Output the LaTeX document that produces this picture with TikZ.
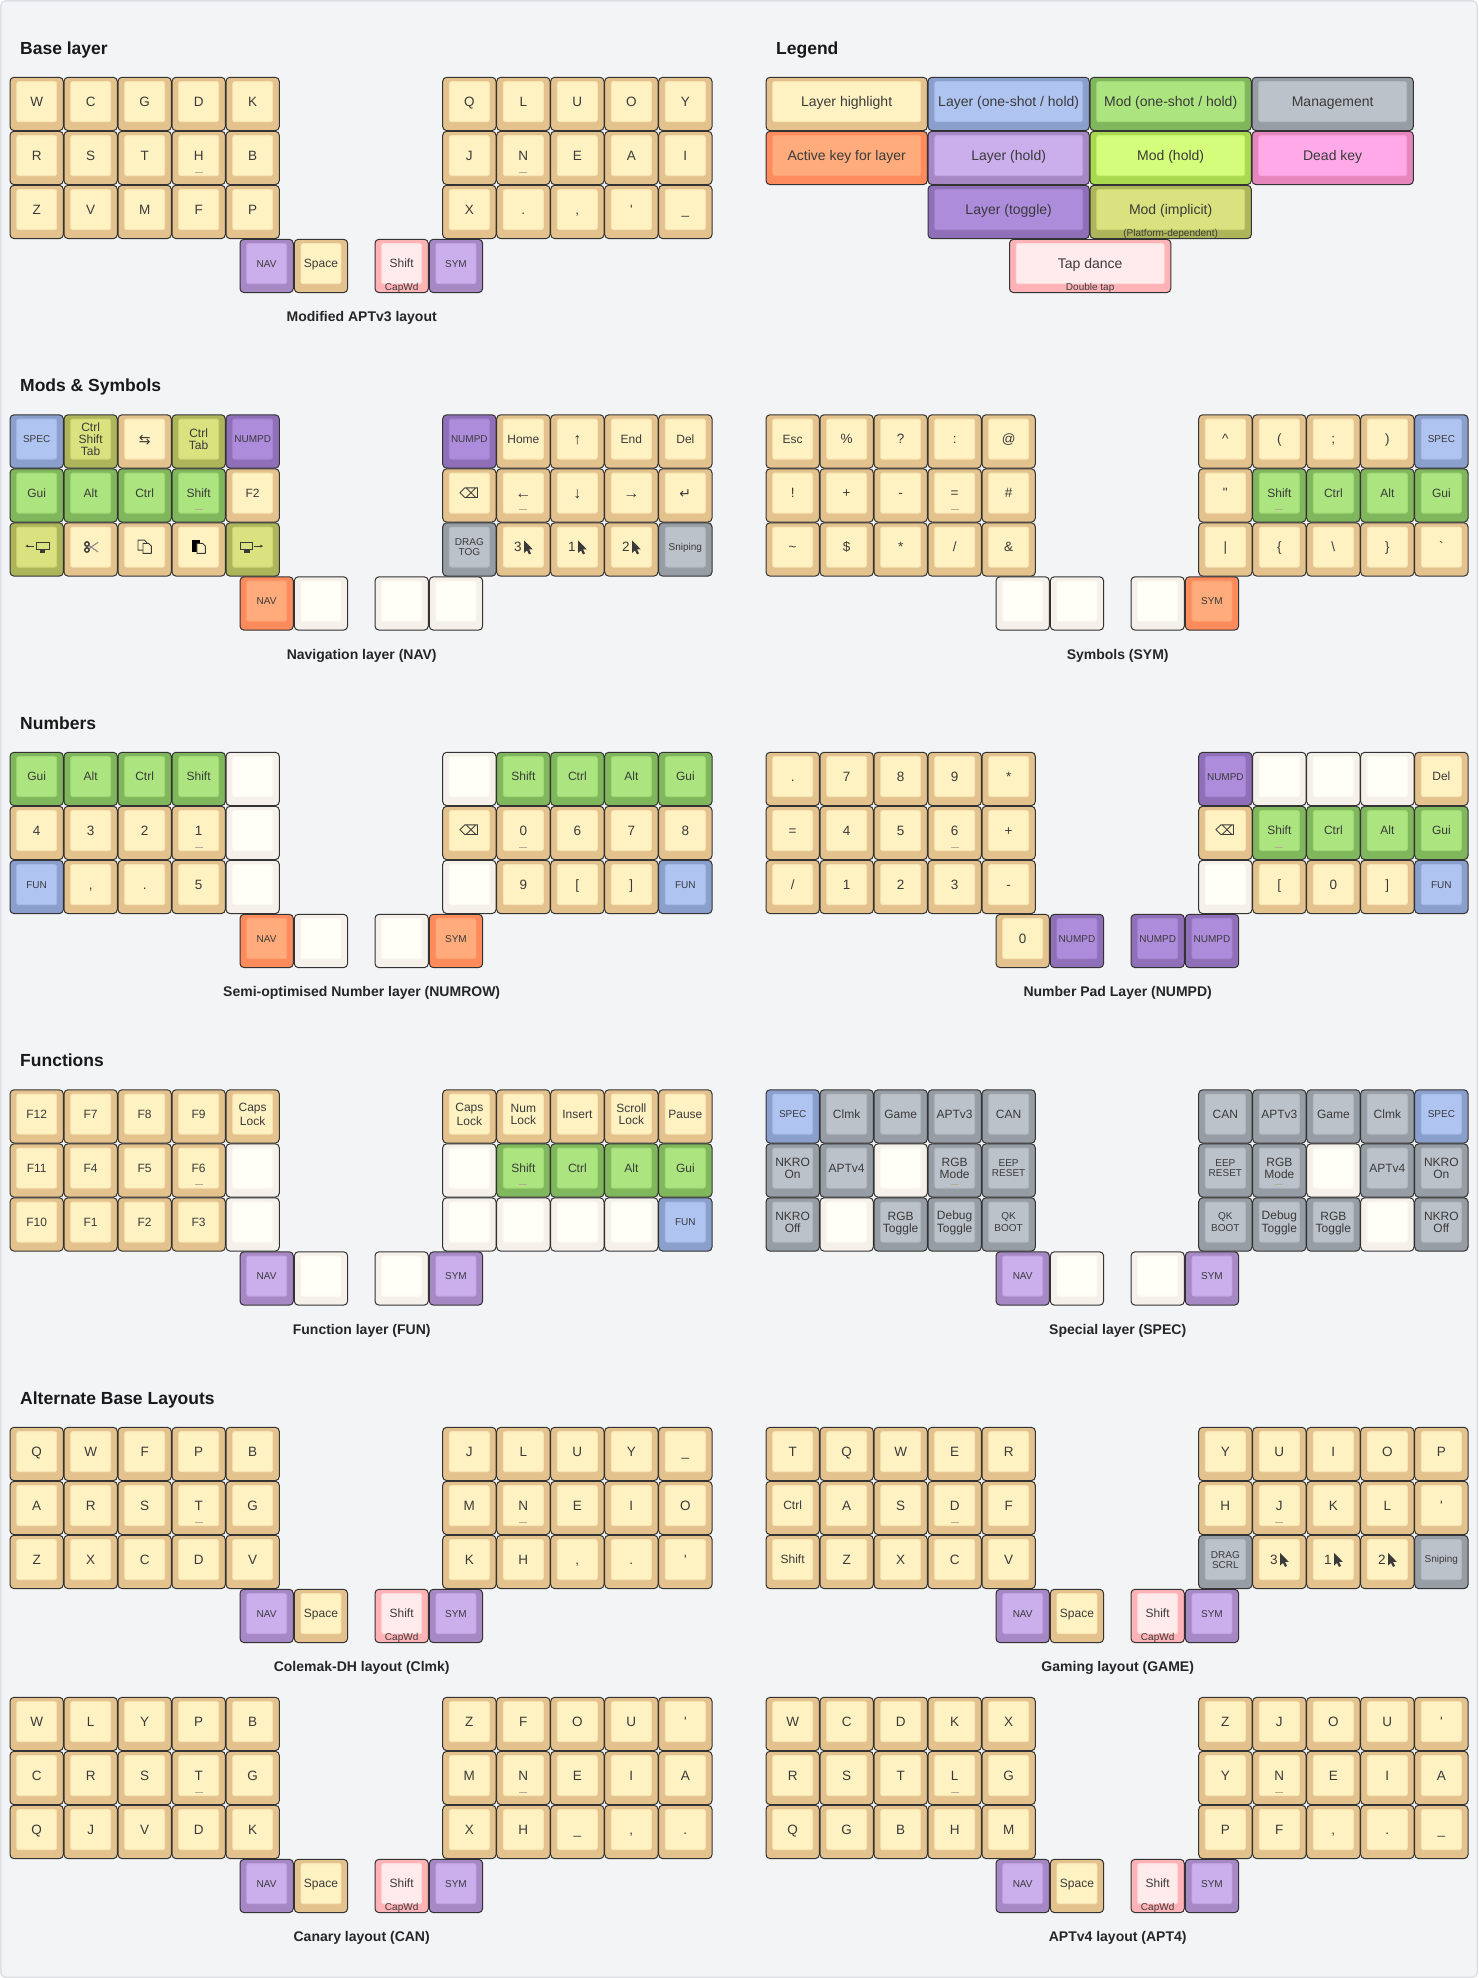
\documentclass[tikz,border=0pt]{standalone}
\usepackage{fontspec}
\newfontfamily\kf{Liberation Sans}
\newfontfamily\djv{DejaVu Sans}
\def\defkc#1#2#3{\definecolor{out#1}{HTML}{#2}\definecolor{inn#1}{HTML}{#3}}
\defkc{t}{E4C28E}{FFF2C2}
\defkc{o}{8A9FCB}{B0C4F2}
\defkc{m}{80B75C}{ACE57F}
\defkc{g}{979DA4}{BCC2CA}
\defkc{a}{FD8B5C}{FFAB7C}
\defkc{h}{A688C5}{CBAEEC}
\defkc{y}{A8D94E}{D4FD7C}
\defkc{k}{E686BC}{FFA9E8}
\defkc{l}{8F70B8}{AE8CDC}
\defkc{i}{ADB55A}{D9E27F}
\defkc{d}{FFB3B6}{FFEBEB}
\defkc{w}{F5F0EA}{FFFFF7}
\definecolor{pagebg}{HTML}{F3F4F6}
\definecolor{pageedge}{HTML}{DEE0E3}
\definecolor{ink}{HTML}{3A3A3A}
\definecolor{keyline}{HTML}{333333}
\definecolor{barc}{HTML}{B5AE94}
\tikzset{
  keyout/.style={draw=keyline,line width=1pt,rounded corners=4pt,minimum height=53.3pt,inner sep=0pt,outer sep=0pt},
  keyin/.style={line width=.8pt,rounded corners=2pt,minimum height=40pt,inner sep=0pt,outer sep=0pt,align=center,text=ink},
  heading/.style={anchor=base west,inner sep=0pt,text=black!90,font=\kf\bfseries\fontsize{17.5}{20}\selectfont},
  captxt/.style={anchor=base,inner sep=0pt,text=black!85,font=\kf\bfseries\fontsize{14}{16}\selectfont},
  subtxt/.style={inner sep=0pt,text=ink,font=\kf\fontsize{10}{10}\selectfont},
  homebar/.style={draw=barc,line width=.8pt},
  icon/.style={ink,line width=.9pt,line join=round},
}
\def\fW{\kf\fontsize{12}{12}\selectfont}
\def\fC{\kf\fontsize{13.5}{14}\selectfont}
\def\fS{\kf\fontsize{10}{10}\selectfont}
\def\fL{\kf\fontsize{14}{14}\selectfont}
\def\fA{\kf\fontsize{16}{16}\selectfont}
\def\mys{\rule[-0.14em]{0pt}{1em}}
\newcount\kI \newcount\kId
\def\kBarFlag{0}
\def\kSub{}
\def\Hm{\gdef\kBarFlag{1}}
\def\Sb#1{\gdef\kSub{#1}}
% x y width colour font text
\newcommand\keyat[6]{%
  \global\advance\kId by 1
  \node[keyout,minimum width=#3pt,fill=out#4] (o\the\kId) at (#1+#3/2,#2+26.65) {};
  \node[keyin,minimum width=#3pt-13.3pt,fill=inn#4,draw=inn#4!72!out#4,font=#5,alias=lastin] (n\the\kId) at (#1+#3/2,#2+24.3) {\mys#6\mys};
  \if\kBarFlag1
    \draw[homebar] (#1+#3/2-4,#2+40.7) -- ++(8,0);
    \gdef\kBarFlag{0}%
  \fi
  \ifx\kSub\empty\else
    \node[subtxt] (s\the\kId) at (#1+#3/2,#2+48.6) {\kSub};
    \gdef\kSub{}%
  \fi
}
\def\kSet#1#2{\gdef\kOX{#1}\gdef\kOY{#2}\global\kI=0 }
\newcommand\kNext[3]{%
  \ifnum\kI<30
    \pgfmathtruncatemacro\kR{\kI/10}%
    \pgfmathtruncatemacro\kC{mod(\kI,10)}%
    \ifnum\kC<5
      \pgfmathsetmacro\kDX{\kC*54}%
    \else
      \pgfmathsetmacro\kDX{432.7+(\kC-5)*54}%
    \fi
    \pgfmathsetmacro\kDY{\kR*54}%
  \else
    \edef\kDX{\ifcase\numexpr\kI-30\relax 230\or 284.3\or 365\or 419.3\fi}%
    \def\kDY{162}%
  \fi
  \keyat{\kOX+\kDX}{\kOY+\kDY}{53.3}{#1}{#2}{#3}%
  \global\advance\kI by 1
}
\newcommand\Kw[2]{\kNext{#1}{\fW}{#2}}
\newcommand\Kc[2]{\kNext{#1}{\fC}{#2}}
\newcommand\Ks[2]{\kNext{#1}{\fS}{#2}}
\newcommand\Ka[1]{\kNext{t}{\fA}{#1}}
\newcommand\Kb{\kNext{w}{\fW}{}}
\newcommand\Tn[5]{\Kc{t}{#1}\Kc{t}{#2}\Kc{t}{#3}\Kc{t}{#4}\Kc{t}{#5}}
\newcommand\TnL[5]{\Kc{t}{#1}\Kc{t}{#2}\Kc{t}{#3}\Hm\Kc{t}{#4}\Kc{t}{#5}}
\newcommand\TnR[5]{\Kc{t}{#1}\Hm\Kc{t}{#2}\Kc{t}{#3}\Kc{t}{#4}\Kc{t}{#5}}
\newcommand\ThumbStd{\Ks{h}{NAV}\Kw{t}{Space}\Sb{CapWd}\Kw{d}{Shift}\Ks{h}{SYM}}
\newcommand\ThumbPlain{\Ks{h}{NAV}\Kb\Kb\Ks{h}{SYM}}
\newcommand\ModsL{\Kw{m}{Gui}\Kw{m}{Alt}\Kw{m}{Ctrl}\Kw{m}{Shift}}
\newcommand\ModsR{\Kw{m}{Shift}\Kw{m}{Ctrl}\Kw{m}{Alt}\Kw{m}{Gui}}
\newcommand\ModsLH{\Kw{m}{Gui}\Kw{m}{Alt}\Kw{m}{Ctrl}\Hm\Kw{m}{Shift}}
\newcommand\Bksp{\kNext{t}{\djv\fontsize{14}{14}\selectfont}{⌫}}
\newcommand\Ptr[1]{% digit + cursor
  \Kc{t}{#1\hspace{11pt}}%
  \fill[ink,shift={(lastin.center)},shift={(0.7,-6.7)}] (0,0) -- (0,12.6) -- (2.9,10) -- (5,14) -- (7,13) -- (5,9) -- (8.8,9) -- cycle;
}
\newcommand\Head[3]{\global\advance\kId by 1 \node[heading] (h\the\kId) at (#1,#2) {#3};}
\newcommand\Capt[3]{\global\advance\kId by 1 \node[captxt] (c\the\kId) at (#1,#2) {#3};}
\newcommand\Lyr[3]{\kSet{#1}{#2}\Capt{#1+351.7}{#2+244.4}{#3}}
\newcommand\Doc[4]{(#1,#2) -- (#3-2.6,#2) -- (#3,#2+2.6) -- (#3,#4) -- (#1,#4) -- cycle}
\begin{document}
\begin{tikzpicture}[x=1pt,y=-1pt]
\useasboundingbox (0,0) rectangle (1478,1978);
\fill[white] (0,0) rectangle (1478,1978);
\draw[fill=pagebg,draw=pageedge,line width=1.5pt,rounded corners=5pt] (.75,.75) rectangle (1477.25,1977.25);
% section headings
\Head{20}{54.3}{Base layer}
\Head{776}{54.3}{Legend}
\Head{20}{391.8}{Mods \& Symbols}
\Head{20}{729.3}{Numbers}
\Head{20}{1066.8}{Functions}
\Head{20}{1404.3}{Alternate Base Layouts}
% Base
\Lyr{10}{77.3}{Modified APTv3 layout}
\Tn{W}{C}{G}{D}{K}\Tn{Q}{L}{U}{O}{Y}
\TnL{R}{S}{T}{H}{B}\TnR{J}{N}{E}{A}{I}
\Tn{Z}{V}{M}{F}{P}\Tn{X}{.}{,}{'}{\_}
\ThumbStd
% Legend
\keyat{766}{77.3}{161.3}{t}{\fL}{Layer highlight}
\keyat{928}{77.3}{161.3}{o}{\fL}{Layer (one-shot / hold)}
\keyat{1090}{77.3}{161.3}{m}{\fL}{Mod (one-shot / hold)}
\keyat{1252}{77.3}{161.3}{g}{\fL}{Management}
\keyat{766}{131.3}{161.3}{a}{\fL}{Active key for layer}
\keyat{928}{131.3}{161.3}{h}{\fL}{Layer (hold)}
\keyat{1090}{131.3}{161.3}{y}{\fL}{Mod (hold)}
\keyat{1252}{131.3}{161.3}{k}{\fL}{Dead key}
\keyat{928}{185.3}{161.3}{l}{\fL}{Layer (toggle)}
\Sb{(Platform-dependent)}\keyat{1090}{185.3}{161.3}{i}{\fL}{Mod (implicit)}
\Sb{Double tap}\keyat{1009.5}{239.3}{161.3}{d}{\fL}{Tap dance}
% NAV
\Lyr{10}{414.8}{Navigation layer (NAV)}
\Ks{o}{SPEC}\Kw{i}{Ctrl\\Shift\\Tab}\kNext{t}{\djv\fontsize{14}{14}\selectfont}{⇆}\Kw{i}{Ctrl\\Tab}\Ks{l}{NUMPD}
\Ks{l}{NUMPD}\Kw{t}{Home}\Ka{↑}\Kw{t}{End}\Kw{t}{Del}
\ModsLH\Kw{t}{F2}
\Bksp\Hm\Ka{←}\Ka{↓}\Ka{→}\kNext{t}{\djv\fontsize{14}{14}\selectfont}{↵}
\Kw{i}{}
\begin{scope}[shift={(lastin.center)}]
  \draw[icon,line width=.8pt] (-3,-1) -- (-10,-1); \fill[ink] (-11.3,-1) -- (-8.6,-2.4) -- (-8.6,.4) -- cycle;
  \draw[ink,line width=1pt] (-.2,-5) rectangle (12.4,2.6);
  \fill[ink] (-.7,2.2) rectangle (12.9,3.2);
  \fill[ink] (3,3) rectangle (8.7,5.4);
\end{scope}
\Kw{t}{}
\begin{scope}[shift={(lastin.center)}]
  \draw[black!45,line width=1.1pt] (-2,1.7) -- (7.4,-4.8);
  \draw[black!45,line width=1.1pt] (-2,-1.7) -- (7.4,4.8);
  \draw[ink,line width=1.4pt] (-3.7,-3.1) circle (2.2);
  \draw[ink,line width=1.4pt] (-3.7,2.9) circle (2.2);
\end{scope}
\Kw{t}{}
\begin{scope}[shift={(lastin.center)}]
  \draw[icon,fill=innt] \Doc{-6.7}{-7}{2.3}{3};
  \draw[icon,fill=innt] \Doc{-1.7}{-3.7}{6.7}{6.3};
\end{scope}
\Kw{t}{}
\begin{scope}[shift={(lastin.center)}]
  \fill[black] (-6.7,-7.2) rectangle (1.2,4.8);
  \draw[icon,fill=innt] \Doc{-1.7}{-3.7}{6.7}{6.3};
\end{scope}
\Kw{i}{}
\begin{scope}[shift={(lastin.center)}]
  \draw[ink,line width=1pt] (-12.4,-5) rectangle (.2,2.6);
  \fill[ink] (-12.9,2.2) rectangle (.7,3.2);
  \fill[ink] (-8.7,3) rectangle (-3,5.4);
  \draw[icon,line width=.8pt] (1.5,-1) -- (9,-1); \fill[ink] (10.4,-1) -- (7.7,-2.4) -- (7.7,.4) -- cycle;
\end{scope}
\Ks{g}{DRAG\\TOG}\Ptr{3}\Ptr{1}\Ptr{2}\Ks{g}{Sniping}
\Ks{a}{NAV}\Kb\Kb\Kb
% SYM
\Lyr{766}{414.8}{Symbols (SYM)}
\Kw{t}{Esc}\Kc{t}{\%}\Kc{t}{?}\Kc{t}{:}\Kc{t}{@}
\Kc{t}{\textasciicircum}\Kc{t}{(}\Kc{t}{;}\Kc{t}{)}\Ks{o}{SPEC}
\TnL{!}{+}{-}{=}{\#}
\Kc{t}{"}\Hm\ModsR
\Tn{\textasciitilde}{\$}{*}{/}{\&}
\Tn{|}{\{}{\textbackslash}{\}}{`}
\Kb\Kb\Kb\Ks{a}{SYM}
% NUMROW
\Lyr{10}{752.3}{Semi-optimised Number layer (NUMROW)}
\ModsL\Kb
\Kb\ModsR
\Kc{t}{4}\Kc{t}{3}\Kc{t}{2}\Hm\Kc{t}{1}\Kb
\Bksp\Hm\Kc{t}{0}\Kc{t}{6}\Kc{t}{7}\Kc{t}{8}
\Ks{o}{FUN}\Kc{t}{,}\Kc{t}{.}\Kc{t}{5}\Kb
\Kb\Kc{t}{9}\Kc{t}{[}\Kc{t}{]}\Ks{o}{FUN}
\Ks{a}{NAV}\Kb\Kb\Ks{a}{SYM}
% NUMPD
\Lyr{766}{752.3}{Number Pad Layer (NUMPD)}
\Tn{.}{7}{8}{9}{*}
\Ks{l}{NUMPD}\Kb\Kb\Kb\Kw{t}{Del}
\TnL{=}{4}{5}{6}{+}
\Bksp\Hm\ModsR
\Tn{/}{1}{2}{3}{-}
\Kb\Kc{t}{[}\Kc{t}{0}\Kc{t}{]}\Ks{o}{FUN}
\Kc{t}{0}\Ks{l}{NUMPD}\Ks{l}{NUMPD}\Ks{l}{NUMPD}
% FUN
\Lyr{10}{1089.8}{Function layer (FUN)}
\Kw{t}{F12}\Kw{t}{F7}\Kw{t}{F8}\Kw{t}{F9}\Kw{t}{Caps\\Lock}
\Kw{t}{Caps\\Lock}\Kw{t}{Num\\Lock}\Kw{t}{Insert}\Kw{t}{Scroll\\Lock}\Kw{t}{Pause}
\Kw{t}{F11}\Kw{t}{F4}\Kw{t}{F5}\Hm\Kw{t}{F6}\Kb
\Kb\Hm\ModsR
\Kw{t}{F10}\Kw{t}{F1}\Kw{t}{F2}\Kw{t}{F3}\Kb
\Kb\Kb\Kb\Kb\Ks{o}{FUN}
\ThumbPlain
% SPEC
\Lyr{766}{1089.8}{Special layer (SPEC)}
\Ks{o}{SPEC}\Kw{g}{Clmk}\Kw{g}{Game}\Kw{g}{APTv3}\Kw{g}{CAN}
\Kw{g}{CAN}\Kw{g}{APTv3}\Kw{g}{Game}\Kw{g}{Clmk}\Ks{o}{SPEC}
\Kw{g}{NKRO\\On}\Kw{g}{APTv4}\Kb\Hm\Kw{g}{RGB\\Mode}\Ks{g}{EEP\\RESET}
\Ks{g}{EEP\\RESET}\Hm\Kw{g}{RGB\\Mode}\Kb\Kw{g}{APTv4}\Kw{g}{NKRO\\On}
\Kw{g}{NKRO\\Off}\Kb\Kw{g}{RGB\\Toggle}\Kw{g}{Debug\\Toggle}\Ks{g}{QK\\BOOT}
\Ks{g}{QK\\BOOT}\Kw{g}{Debug\\Toggle}\Kw{g}{RGB\\Toggle}\Kb\Kw{g}{NKRO\\Off}
\ThumbPlain
% Colemak
\Lyr{10}{1427.3}{Colemak-DH layout (Clmk)}
\Tn{Q}{W}{F}{P}{B}\Tn{J}{L}{U}{Y}{\_}
\TnL{A}{R}{S}{T}{G}\TnR{M}{N}{E}{I}{O}
\Tn{Z}{X}{C}{D}{V}\Tn{K}{H}{,}{.}{'}
\ThumbStd
% Gaming
\Lyr{766}{1427.3}{Gaming layout (GAME)}
\Tn{T}{Q}{W}{E}{R}\Tn{Y}{U}{I}{O}{P}
\Kw{t}{Ctrl}\Kc{t}{A}\Kc{t}{S}\Hm\Kc{t}{D}\Kc{t}{F}\TnR{H}{J}{K}{L}{'}
\Kw{t}{Shift}\Kc{t}{Z}\Kc{t}{X}\Kc{t}{C}\Kc{t}{V}
\Ks{g}{DRAG\\SCRL}\Ptr{3}\Ptr{1}\Ptr{2}\Ks{g}{Sniping}
\ThumbStd
% Canary
\Lyr{10}{1697.3}{Canary layout (CAN)}
\Tn{W}{L}{Y}{P}{B}\Tn{Z}{F}{O}{U}{'}
\TnL{C}{R}{S}{T}{G}\TnR{M}{N}{E}{I}{A}
\Tn{Q}{J}{V}{D}{K}\Tn{X}{H}{\_}{,}{.}
\ThumbStd
% APTv4
\Lyr{766}{1697.3}{APTv4 layout (APT4)}
\Tn{W}{C}{D}{K}{X}\Tn{Z}{J}{O}{U}{'}
\TnL{R}{S}{T}{L}{G}\TnR{Y}{N}{E}{I}{A}
\Tn{Q}{G}{B}{H}{M}\Tn{P}{F}{,}{.}{\_}
\ThumbStd
\end{tikzpicture}
\end{document}
